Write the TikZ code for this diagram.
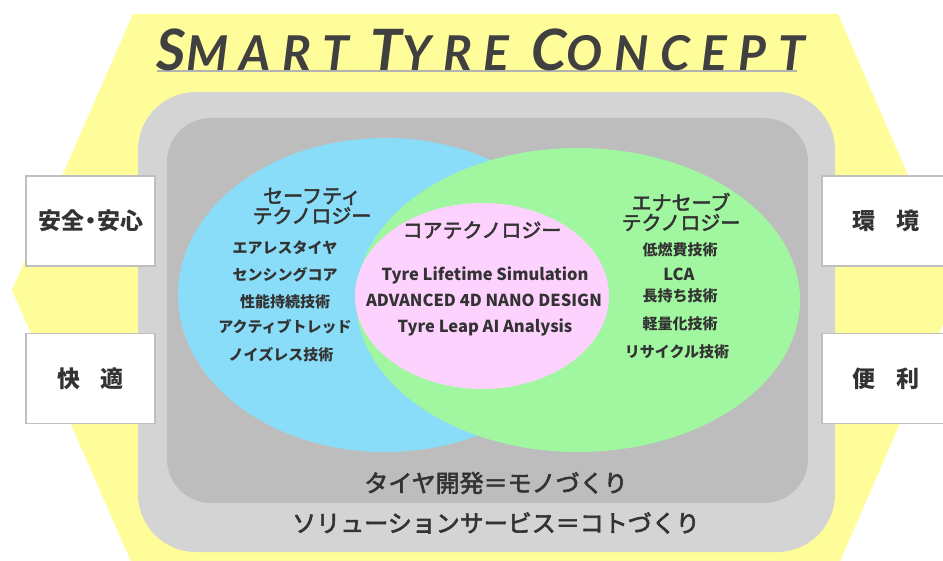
\documentclass[tikz,border=0pt]{standalone}
\usepackage{fontspec}
\setmainfont{Noto Sans CJK JP}
\newfontfamily\jpmed{Noto Sans CJK JP}[FakeBold=2.5]
\newfontfamily\titlefont{Lato}[LetterSpace=24]
\definecolor{tyellow}{HTML}{FFFD99}
\definecolor{tlgray}{HTML}{D4D4D4}
\definecolor{tdgray}{HTML}{BDBDBD}
\definecolor{tblue}{HTML}{8ADDF8}
\definecolor{tgreen}{HTML}{A0F7A0}
\definecolor{tpink}{HTML}{FED2FE}
\definecolor{ttext}{HTML}{333333}

\begin{document}
\begin{tikzpicture}[x=1pt,y=-1pt,
  group/.style={text=ttext,font=\jpmed\fontsize{20}{20}\selectfont,align=center,inner sep=0pt},
  item/.style={text=ttext,font=\fontsize{15}{15}\selectfont\bfseries,inner sep=0pt},
  enitem/.style={text=ttext,font=\fontsize{16.5}{16.5}\selectfont\bfseries,inner sep=0pt},
  sidebox/.style={draw=black!25,line width=1.3pt,fill=white,text=ttext,
    font=\fontsize{23}{23}\selectfont\bfseries,minimum height=90pt},
  basetext/.style={text=ttext,font=\jpmed\fontsize{24}{24}\selectfont,inner sep=0pt}]
 \useasboundingbox (0,0) rectangle (943,561);
 \clip (0,0) rectangle (943,561);
 % background
 \fill[tyellow] (133,14) -- (838,14) -- (958,290) -- (838,566) -- (133,566) -- (12,290) -- cycle;
 \fill[tlgray,rounded corners=58pt] (138,92) rectangle (835,552);
 \fill[tdgray,rounded corners=44pt] (167,118) rectangle (808,503);
 % title
 \draw[black!30,line width=1.2pt] (157,71) -- (797,71);
 \node[anchor=base,inner sep=0pt,text=black!75] (title) at (481,71)
   {\titlefont\bfseries\itshape\fontsize{57}{57}\selectfont S\fontsize{48}{48}\selectfont MART
    \fontsize{57}{57}\selectfont T\fontsize{48}{48}\selectfont YRE
    \fontsize{57}{57}\selectfont C\fontsize{48}{48}\selectfont ONCEPT};
 % technologies
 \fill[tblue] (385,295) ellipse [x radius=207pt, y radius=157pt];
 \fill[tgreen] (578,300) ellipse [x radius=222pt, y radius=152pt];
 \fill[tpink] (482,296) ellipse [x radius=127pt, y radius=93pt];

 \node[group] (safety) at (312,206) {セーフティ\\テクノロジー};
 \node[item] (safe1) at (285,248) {エアレスタイヤ};
 \node[item] (safe2) at (285,275) {センシングコア};
 \node[item] (safe3) at (285,302) {性能持続技術};
 \node[item] (safe4) at (285,327) {アクティブトレッド};
 \node[item] (safe5) at (281,355) {ノイズレス技術};

 \node[group] (core) at (482,230) {コアテクノロジー};
 \node[enitem] (core1) at (485,275) {Tyre Lifetime Simulation};
 \node[enitem] (core2) at (484,300) {ADVANCED 4D NANO DESIGN};
 \node[enitem] (core3) at (485,327) {Tyre Leap AI Analysis};

 \node[group] (enasave) at (681,212) {エナセーブ\\テクノロジー};
 \node[item] (eco1) at (680,250) {低燃費技術};
 \node[enitem] (eco2) at (679,274) {LCA};
 \node[item] (eco3) at (680,296) {長持ち技術};
 \node[item] (eco4) at (680,324) {軽量化技術};
 \node[item] (eco5) at (677,352) {リサイクル技術};

 \node[basetext] (mono) at (496,483) {タイヤ開発＝モノづくり};
 \node[basetext] (koto) at (496,523) {ソリューションサービス＝コトづくり};
 % values
 \node[sidebox,minimum width=129pt] (anzen) at (90.5,221) {安全\kern-5pt・\kern-5pt安心};
 \node[sidebox,minimum width=129pt] (kaiteki) at (90.5,378.5) {快\hspace{0.9em}適};
 \node[sidebox,minimum width=128pt] (kankyo) at (886,221) {環\hspace{0.9em}境};
 \node[sidebox,minimum width=128pt] (benri) at (886,378.5) {便\hspace{0.9em}利};
\end{tikzpicture}
\end{document}
